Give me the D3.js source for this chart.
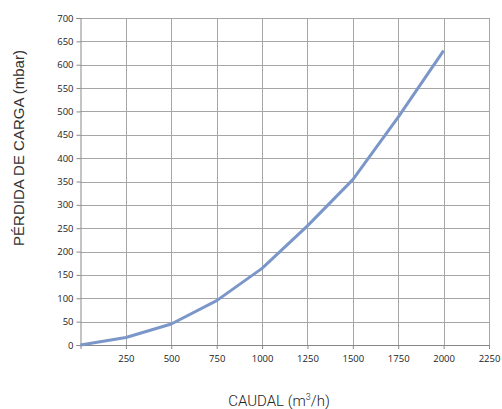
<!DOCTYPE html>
<html><head><meta charset="utf-8">
<script src="https://cdn.jsdelivr.net/npm/d3@7"></script>
<style>body{margin:0;background:#fff}svg{display:block}</style>
</head><body>
<script>
const caudal = [0, 250, 500, 750, 1000, 1250, 1500, 1750, 2000];
const perdida = [0, 16, 45, 95, 164, 255, 354, 488, 630];
const xTicks = [250, 500, 750, 1000, 1250, 1500, 1750, 2000, 2250];
const yTicks = [0, 50, 100, 150, 200, 250, 300, 350, 400, 450, 500, 550, 600, 650, 700];

const W = 502, H = 409;
const m = {l: 80.5, r: 489, t: 18, b: 345};
const svg = d3.select("body").append("svg").attr("width", W).attr("height", H);
const x = d3.scaleLinear().domain([0, 2250]).range([m.l, m.r]);
const y = d3.scaleLinear().domain([0, 700]).range([m.b, m.t]);

const g = svg.append("g");
g.selectAll(".hg").data(yTicks.filter(d => d > 0)).join("line")
  .attr("x1", m.l).attr("x2", m.r).attr("y1", d => Math.round(y(d)) + 0.5).attr("y2", d => Math.round(y(d)) + 0.5)
  .attr("stroke", "#a6a6a6").attr("stroke-width", 1);
g.selectAll(".vg").data(xTicks).join("line")
  .attr("y1", m.t).attr("y2", m.b).attr("x1", d => Math.round(x(d)) + 0.5).attr("x2", d => Math.round(x(d)) + 0.5)
  .attr("stroke", "#a6a6a6").attr("stroke-width", 1);

const fmt = d3.format("d");
const yAxis = d3.axisLeft(y).tickValues(yTicks).tickFormat(fmt).tickSize(4).tickPadding(3);
const ya = svg.append("g").attr("transform", `translate(${m.l},0)`).call(yAxis);
const xAxis = d3.axisBottom(x).tickValues(xTicks).tickFormat(fmt).tickSize(4).tickPadding(6);
const xa = svg.append("g").attr("transform", `translate(0,${m.b})`).call(xAxis);
[ya, xa].forEach(a => {
  a.select(".domain").attr("stroke", "#888");
  a.selectAll(".tick line").attr("stroke", "#888");
  a.selectAll("text").attr("fill", "#222").style("font-family", "'Open Sans', sans-serif").style("font-size", "9.5px");
});

const line = d3.line().x((d, i) => x(caudal[i])).y(d => y(d));
svg.append("path").datum(perdida).attr("d", line)
  .attr("fill", "none").attr("stroke", "#7b96c9").attr("stroke-width", 3).attr("stroke-linejoin", "round");

svg.append("text").attr("transform", "translate(24,148) rotate(-90)")
  .attr("text-anchor", "middle").style("font-family", "'Liberation Sans', Arial, sans-serif").style("font-size", "15px").attr("fill", "#333")
  .text("PÉRDIDA DE CARGA (mbar)");
const xt = svg.append("text").attr("x", 279).attr("y", 406).attr("text-anchor", "middle")
  .style("font-family", "Roboto, sans-serif").style("font-weight", "300").style("font-size", "15px").attr("fill", "#222");
xt.append("tspan").text("CAUDAL (m");
xt.append("tspan").attr("dy", -6).style("font-size", "9px").text("3");
xt.append("tspan").attr("dy", 6).text("/h)");
</script>
</body></html>
